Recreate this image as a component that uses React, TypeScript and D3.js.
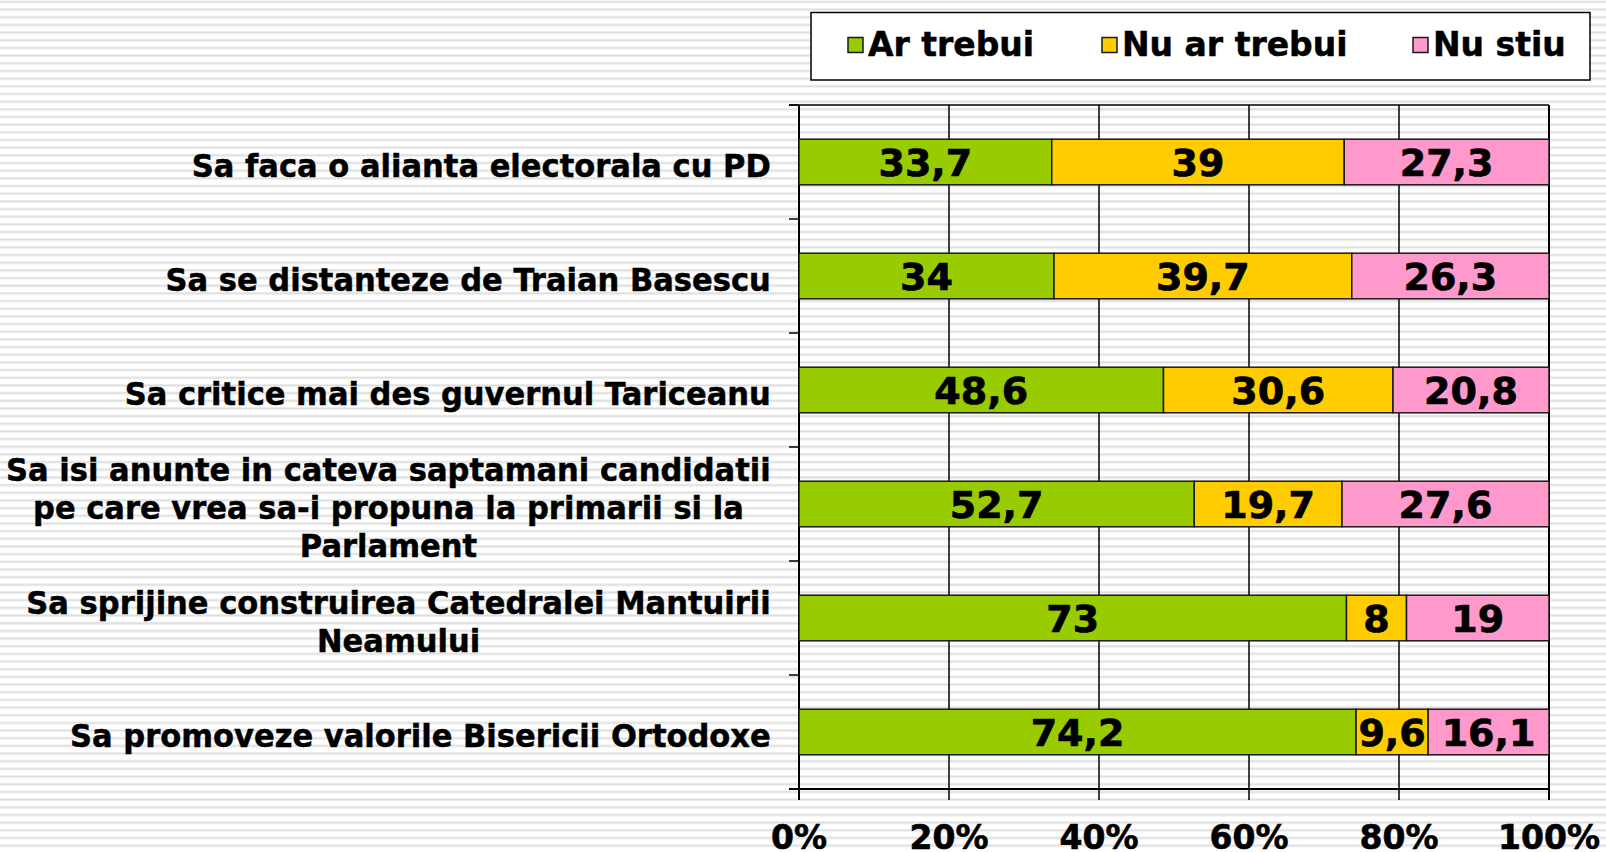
import React from "react";
import * as d3 from "d3";

const categories = [
	"Sa faca o alianta electorala cu PD",
	"Sa se distanteze de Traian Basescu",
	"Sa critice mai des guvernul Tariceanu",
	"Sa isi anunte in cateva saptamani candidatii\npe care vrea sa-i propuna la primarii si la\nParlament",
	"Sa sprijine construirea Catedralei Mantuirii\nNeamului",
	"Sa promoveze valorile Bisericii Ortodoxe",
];

const seriesNames = ["Ar trebui", "Nu ar trebui", "Nu stiu"];
const arTrebui = [33.7, 34, 48.6, 52.7, 73, 74.2];
const nuArTrebui = [39, 39.7, 30.6, 19.7, 8, 9.6];
const nuStiu = [27.3, 26.3, 20.8, 27.6, 19, 16.1];
const xTicks = [0, 0.2, 0.4, 0.6, 0.8, 1];

const colors = ["#99cc00", "#ffcc00", "#ff99cc"];

const W = 1606;
const H = 852;
const layout = { left: 799, right: 1549, top: 105, bottom: 789 };
const FONT = "'DejaVu Sans', Verdana, sans-serif";

const measureCtx = typeof document !== "undefined" ? document.createElement("canvas").getContext("2d") : null;
function textWidth(t: string, size: number) {
	if (!measureCtx) return t.length * size * 0.6;
	measureCtx.font = `bold ${size}px ${FONT}`;
	return measureCtx.measureText(t).width;
}

export default function App() {
	const rows = categories.map((c, i) => ({ cat: c, s0: arTrebui[i], s1: nuArTrebui[i], s2: nuStiu[i] }));
	const stacked = d3.stack<any>().keys(["s0", "s1", "s2"]).offset(d3.stackOffsetExpand)(rows);
	const rawValues = [arTrebui, nuArTrebui, nuStiu];

	const x = d3.scaleLinear().domain([0, 1]).range([layout.left, layout.right]);
	const y = d3.scaleBand<string>()
		.domain(categories)
		.range([layout.top, layout.bottom])
		.paddingInner(0.6)
		.paddingOuter(0.3);
	const step = y.step();

	const catFont = 32;
	const catScale = 0.955;
	const labelRight = 771;

	return (
		<svg width={W} height={H} style={{ position: "absolute", left: 0, top: 0 }} fontFamily={FONT} fontWeight="bold">
			<defs>
				<pattern id="hlines" width={8} height={7.67} patternUnits="userSpaceOnUse" y={0.5}>
					<rect x={0} y={0} width={8} height={7.67} fill="#ffffff" />
					<rect x={0} y={0} width={8} height={1} fill="#ebebeb" />
					<rect x={0} y={1} width={8} height={1.3} fill="#dcdcdc" />
					<rect x={0} y={2.3} width={8} height={0.8} fill="#eeeeee" />
				</pattern>
			</defs>
			<rect x={0} y={0} width={W} height={H} fill="url(#hlines)" />

			{/* gridlines */}
			{xTicks.slice(1).map(t => (
				<line key={t} x1={x(t)} x2={x(t)} y1={layout.top} y2={layout.bottom + 11}
					stroke="#000" strokeWidth={t === 1 ? 2 : 1.5} />
			))}
			<line x1={x(0)} x2={x(0)} y1={layout.top} y2={layout.bottom + 11} stroke="#000" strokeWidth={2} />
			<line x1={layout.left - 10} x2={layout.right} y1={layout.top} y2={layout.top} stroke="#000" strokeWidth={1.5} />
			<line x1={layout.left - 10} x2={layout.right} y1={layout.bottom} y2={layout.bottom} stroke="#000" strokeWidth={2.2} />
			{d3.range(categories.length + 1).map(i => (
				<line key={i} x1={layout.left - 10} x2={layout.left} y1={layout.top + i * step} y2={layout.top + i * step}
					stroke="#000" strokeWidth={1.5} />
			))}

			{/* bars */}
			{stacked.map((s, si) => (
				<g key={si}>
					{s.map((d, i) => {
						const x0 = x(d[0]);
						const x1 = x(d[1]);
						const yy = y(categories[i]) as number;
						return (
							<g key={i}>
								<rect x={x0} y={yy} width={x1 - x0} height={y.bandwidth()} fill={colors[si]}
									stroke="#1a1a1a" strokeWidth={1.5} />
								<text x={(x0 + x1) / 2} y={yy + y.bandwidth() / 2} dy="0.37em" textAnchor="middle"
									fontSize={38} fill="#000" stroke="#000" strokeWidth={0.7}>
									{String(rawValues[si][i]).replace(".", ",")}
								</text>
							</g>
						);
					})}
				</g>
			))}

			{/* category labels */}
			{categories.map(c => {
				const lines = c.split("\n");
				const maxW = d3.max(lines, l => textWidth(l, catFont)) as number;
				const cy = (y(c) as number) + y.bandwidth() / 2 + 3;
				const lh = 38;
				return (
					<text key={c} fontSize={catFont} textAnchor="middle" fill="#000" stroke="#000" strokeWidth={0.5}
						transform={`translate(${labelRight},0) scale(${catScale},1)`}>
						{lines.map((l, li) => (
							<tspan key={li} x={-maxW / 2} y={cy + (li - (lines.length - 1) / 2) * lh} dy="0.36em">{l}</tspan>
						))}
					</text>
				);
			})}

			{/* x tick labels */}
			{xTicks.map(t => (
				<text key={t} x={x(t)} y={849} textAnchor="middle" fontSize={33} fill="#000" stroke="#000" strokeWidth={0.6}>
					{d3.format(".0%")(t)}
				</text>
			))}

			{/* legend */}
			<rect x={811} y={12.5} width={779} height={67.5} fill="#fff" stroke="#000" strokeWidth={1.5} />
			{seriesNames.map((n, i) => {
				const lx = [848, 1102, 1413][i];
				return (
					<g key={n}>
						<rect x={lx} y={37.5} width={15} height={15} fill={colors[i]} stroke="#1a1a1a" strokeWidth={1.5} />
						<text x={lx + 20} y={56} fontSize={33} fill="#000" stroke="#000" strokeWidth={0.5}>{n}</text>
					</g>
				);
			})}
		</svg>
	);
}
